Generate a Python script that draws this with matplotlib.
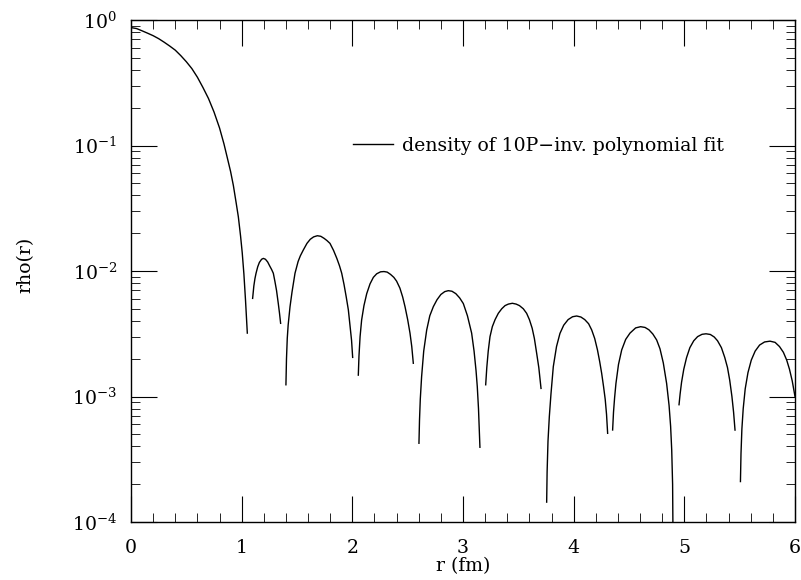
import matplotlib
matplotlib.use("Agg")
import matplotlib.pyplot as plt
from matplotlib.ticker import FixedLocator, MultipleLocator

plt.rcParams['font.family'] = ['DejaVu Serif']
plt.rcParams['mathtext.fontset'] = 'dejavuserif'

# Lobes of the density curve, r in fm
r1 = [0.0, 0.05, 0.1, 0.15, 0.2, 0.25, 0.3, 0.35, 0.4, 0.45, 0.5, 0.55, 0.6, 0.65, 0.7,
      0.75, 0.8, 0.84, 0.87, 0.9, 0.925, 0.95, 0.97, 0.99, 1.005, 1.02, 1.035, 1.045, 1.051]
rho1 = [0.87, 0.855, 0.82, 0.785, 0.75, 0.71, 0.665, 0.62, 0.575, 0.52, 0.465, 0.41, 0.35, 0.29, 0.237,
        0.185, 0.138, 0.103, 0.080, 0.062, 0.048, 0.035, 0.027, 0.019, 0.014, 0.0095, 0.0058, 0.0040, 0.0032]

r2 = [1.099, 1.11, 1.12, 1.13, 1.145, 1.16, 1.18, 1.196, 1.215, 1.235, 1.255, 1.27, 1.286,
      1.30, 1.315, 1.331, 1.342, 1.352]
rho2 = [0.00605, 0.0076, 0.0087, 0.0096, 0.0108, 0.0117, 0.0124, 0.0126, 0.0124, 0.0118, 0.0109,
        0.0103, 0.0096, 0.0083, 0.0070, 0.0055, 0.0046, 0.00383]

r3 = [1.40, 1.405, 1.412, 1.42, 1.437, 1.455, 1.482, 1.51, 1.53, 1.557, 1.59, 1.62, 1.65, 1.684,
      1.715, 1.745, 1.77, 1.798, 1.83, 1.86, 1.884, 1.904, 1.925, 1.945, 1.964, 1.98, 1.993, 2.003]
rho3 = [0.00124, 0.0020, 0.0029, 0.0037, 0.0052, 0.0068, 0.0096, 0.0119, 0.0132, 0.0147, 0.0166,
        0.0179, 0.0187, 0.0191, 0.0189, 0.0182, 0.0175, 0.0166, 0.0146, 0.0126, 0.0110, 0.0096,
        0.0078, 0.0062, 0.0049, 0.0036, 0.0028, 0.00205]

r4 = [2.054, 2.06, 2.07, 2.084, 2.105, 2.13, 2.16, 2.19, 2.22, 2.255, 2.286, 2.315, 2.345, 2.375,
      2.40, 2.43, 2.455, 2.476, 2.50, 2.521, 2.537, 2.551]
rho4 = [0.00148, 0.0021, 0.0030, 0.00407, 0.0053, 0.0066, 0.0079, 0.0089, 0.0095, 0.00985, 0.0099,
        0.0098, 0.0094, 0.0089, 0.0083, 0.0073, 0.0062, 0.0052, 0.0041, 0.0032, 0.0025, 0.00184]

r5 = [2.602, 2.607, 2.614, 2.626, 2.645, 2.672, 2.70, 2.732, 2.765, 2.80, 2.835, 2.867, 2.90,
      2.935, 2.97, 3.003, 3.04, 3.078, 3.10, 3.118, 3.129, 3.14, 3.153]
rho5 = [0.000424, 0.00065, 0.00095, 0.00144, 0.0023, 0.00339, 0.0044, 0.0052, 0.0059, 0.0065,
        0.00685, 0.00697, 0.0069, 0.0066, 0.0061, 0.0055, 0.0044, 0.0032, 0.0023, 0.0016, 0.0012,
        0.0008, 0.000394]

r6 = [3.205, 3.215, 3.228, 3.244, 3.265, 3.29, 3.319, 3.35, 3.38, 3.41, 3.446, 3.48, 3.51, 3.545,
      3.575, 3.60, 3.625, 3.645, 3.666, 3.685, 3.705]
rho6 = [0.00124, 0.0017, 0.0023, 0.0030, 0.0036, 0.0041, 0.0046, 0.0050, 0.0053, 0.00545, 0.00553,
        0.00545, 0.0053, 0.0050, 0.0046, 0.0041, 0.0035, 0.0029, 0.0022, 0.0017, 0.00116]

r7 = [3.756, 3.76, 3.768, 3.78, 3.795, 3.816, 3.845, 3.876, 3.91, 3.95, 3.99, 4.027, 4.065, 4.10,
      4.135, 4.163, 4.19, 4.215, 4.235, 4.253, 4.27, 4.285, 4.297, 4.307]
rho7 = [0.000144, 0.00025, 0.00044, 0.00069, 0.00105, 0.00173, 0.0025, 0.00318, 0.0037, 0.0041,
        0.00432, 0.00438, 0.0043, 0.0041, 0.0038, 0.00339, 0.0029, 0.00235, 0.0019, 0.00153,
        0.0012, 0.00095, 0.00072, 0.000509]

r8 = [4.352, 4.36, 4.37, 4.382, 4.405, 4.434, 4.47, 4.509, 4.56, 4.605, 4.645, 4.68, 4.715, 4.75,
      4.78, 4.81, 4.84, 4.862, 4.876, 4.886, 4.894, 4.90]
rho8 = [0.000541, 0.00075, 0.00098, 0.00127, 0.0018, 0.00235, 0.00285, 0.0032, 0.00352, 0.0036,
        0.00355, 0.0034, 0.00315, 0.00282, 0.0024, 0.00185, 0.00127, 0.00085, 0.00058, 0.000375,
        0.0002, 0.00004]

r9 = [4.952, 4.962, 4.975, 4.995, 5.02, 5.05, 5.085, 5.12, 5.16, 5.196, 5.235, 5.27, 5.30, 5.335,
      5.365, 5.39, 5.41, 5.43, 5.445, 5.458]
rho9 = [0.00086, 0.00105, 0.0013, 0.00165, 0.00204, 0.00245, 0.00278, 0.0030, 0.00313, 0.00316,
        0.00312, 0.00298, 0.00278, 0.00245, 0.00205, 0.0017, 0.00135, 0.0010, 0.00075, 0.00054]

r10 = [5.507, 5.512, 5.52, 5.532, 5.55, 5.575, 5.605, 5.64, 5.68, 5.725, 5.774, 5.82, 5.86, 5.895,
       5.925, 5.95, 5.975, 6.0]
rho10 = [0.00021, 0.00035, 0.00055, 0.0008, 0.00115, 0.00155, 0.00195, 0.0023, 0.00257, 0.00272,
         0.00276, 0.0027, 0.0025, 0.00225, 0.00195, 0.00165, 0.00133, 0.00100]

lobes_r = [r1, r2, r3, r4, r5, r6, r7, r8, r9, r10]
lobes_rho = [rho1, rho2, rho3, rho4, rho5, rho6, rho7, rho8, rho9, rho10]

legend_label = "density of 10P\u2212inv. polynomial fit"
x_label = "r (fm)"
y_label = "rho(r)"

FS = 13.6

fig = plt.figure(figsize=(8.01, 5.80), dpi=100)
ax = fig.add_axes([131/801, 1-522/580, 664/801, 502/580])

for i, (rr, pp) in enumerate(zip(lobes_r, lobes_rho)):
    ax.plot(rr, pp, color='black', lw=1.0, label=legend_label if i == 0 else None)

ax.set_yscale('log')
ax.set_xlim(0, 6)
ax.set_ylim(1e-4, 1)

ax.xaxis.set_major_locator(MultipleLocator(1))
ax.xaxis.set_minor_locator(MultipleLocator(0.2))
minor_y = [m * 10.0 ** e for e in range(-4, 0) for m in range(2, 10)]
ax.yaxis.set_minor_locator(FixedLocator(minor_y))

ax.tick_params(which='both', direction='in', top=True, right=True)
ax.tick_params(which='major', length=19)
ax.tick_params(which='minor', length=6.5)
ax.tick_params(axis='x', which='major', pad=12, labelsize=FS)
ax.tick_params(axis='y', which='major', pad=10, labelsize=FS)

for s in ax.spines.values():
    s.set_linewidth(1.0)

fig.text(463/801, 1-566/580, x_label, ha='center', va='center', fontsize=FS)
fig.text(25/801, 1-265/580, y_label, ha='center', va='center', rotation=90, fontsize=FS)

ax.legend(loc='center left', bbox_to_anchor=((353-131)/664, (522-146)/502),
          frameon=False, borderpad=0, borderaxespad=0, handlelength=2.1,
          handletextpad=0.5, fontsize=FS)

fig.savefig('out.png', dpi=100)
